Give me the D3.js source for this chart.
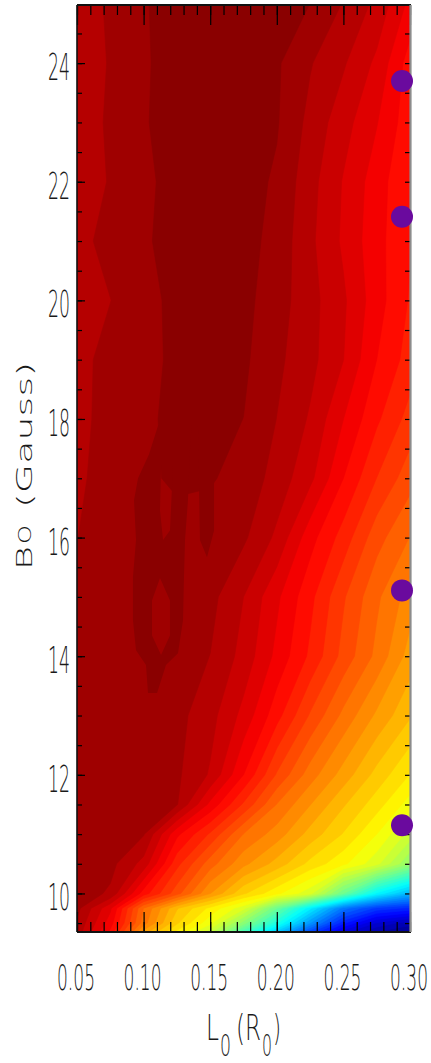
<!DOCTYPE html>
<html><head><meta charset="utf-8">
<script src="https://cdn.jsdelivr.net/npm/d3@7"></script>
<style>html,body{margin:0;padding:0;background:#fff}svg{display:block}</style>
</head><body>
<script>
// ---------------- data ----------------
// grid columns: L0 (R0)
const Lcols = [0.05, 0.075, 0.10, 0.125, 0.15, 0.175, 0.20, 0.225, 0.25, 0.275, 0.30];
// grid rows: B0 (Gauss)
const Brows = [9.35, 9.5, 9.75, 10, 10.5, 11, 11.5, 12, 13, 14, 15, 16, 17, 18, 19, 20, 21, 22, 23, 24, 25];
// normalised field value (0 = dark blue ... 1 = dark red), one array per row
const B0935 = [0.95, 0.87, 0.72, 0.64, 0.57, 0.44, 0.32, 0.19, 0.09, 0.04, 0.02];
const B0950 = [0.955, 0.885, 0.76, 0.67, 0.61, 0.51, 0.40, 0.27, 0.15, 0.08, 0.05];
const B0975 = [0.965, 0.90, 0.77, 0.69, 0.64, 0.59, 0.48, 0.36, 0.24, 0.18, 0.16];
const B1000 = [0.97, 0.955, 0.865, 0.80, 0.73, 0.67, 0.63, 0.59, 0.48, 0.37, 0.30];
const B1050 = [0.972, 0.965, 0.93, 0.84, 0.78, 0.735, 0.70, 0.66, 0.63, 0.59, 0.52];
const B1100 = [0.972, 0.97, 0.96, 0.88, 0.83, 0.77, 0.74, 0.70, 0.665, 0.625, 0.575];
const B1150 = [0.972, 0.972, 0.968, 0.96, 0.89, 0.83, 0.77, 0.73, 0.69, 0.655, 0.615];
const B1200 = [0.970, 0.972, 0.97, 0.962, 0.935, 0.875, 0.81, 0.76, 0.72, 0.68, 0.645];
const B1300 = [0.967, 0.972, 0.972, 0.965, 0.945, 0.91, 0.862, 0.81, 0.765, 0.725, 0.69];
const B1400 = [0.965, 0.972, 0.975, 0.97, 0.958, 0.93, 0.89, 0.85, 0.805, 0.765, 0.72];
const B1500 = [0.962, 0.97, 0.975, 0.972, 0.965, 0.9375, 0.90, 0.86, 0.815, 0.775, 0.74];
const B1600 = [0.958, 0.968, 0.975, 0.975, 0.97, 0.962, 0.933, 0.883, 0.845, 0.80, 0.77];
const B1700 = [0.955, 0.966, 0.977, 0.981, 0.981, 0.972, 0.95, 0.922, 0.875, 0.833, 0.80];
const B1800 = [0.953, 0.965, 0.977, 0.982, 0.986, 0.979, 0.958, 0.935, 0.896, 0.858, 0.825];
const B1900 = [0.952, 0.965, 0.975, 0.982, 0.987, 0.983, 0.963, 0.944, 0.917, 0.875, 0.845];
const B2000 = [0.945, 0.958, 0.972, 0.985, 0.988, 0.985, 0.968, 0.945, 0.92, 0.884, 0.852];
const B2100 = [0.952, 0.965, 0.976, 0.988, 0.99, 0.987, 0.972, 0.942, 0.913, 0.882, 0.856];
const B2200 = [0.945, 0.96, 0.975, 0.986, 0.99, 0.988, 0.976, 0.945, 0.915, 0.885, 0.855];
const B2300 = [0.945, 0.962, 0.977, 0.99, 0.993, 0.99, 0.981, 0.952, 0.925, 0.897, 0.862];
const B2400 = [0.945, 0.96, 0.976, 0.99, 0.993, 0.99, 0.982, 0.96, 0.94, 0.912, 0.865];
const B2500 = [0.945, 0.962, 0.977, 0.99, 0.995, 0.995, 0.99, 0.979, 0.957, 0.932, 0.89];

// dark (top-level) islands: [L0, B0]
const islandOuter = [[0.111,17.9],[0.136,17.9],[0.1348,17.47],[0.1333,16.63],[0.1311,15.96],[0.1303,15.33],[0.1296,14.61],
  [0.1258,14.05],[0.1168,13.85],[0.1101,13.38],[0.1033,13.38],[0.1018,13.85],[0.0943,14.10],[0.0920,14.61],
  [0.0920,15.33],[0.0943,15.96],[0.0928,16.63],[0.0958,17.0],[0.104,17.4]];
const islandHoleA = [[0.1131,17.22],[0.1221,17.22],[0.1198,16.12],[0.1146,15.96],[0.1123,16.46]];
const islandHoleB = [[0.1123,15.32],[0.1198,14.94],[0.1198,14.35],[0.1131,14.02],[0.1063,14.35],[0.1063,14.94]];
const islandRight = [[0.1408,17.9],[0.1529,17.9],[0.1529,16.12],[0.1476,15.67],[0.1423,15.96]];

// marked points
const dotL = [0.294, 0.294, 0.294, 0.294];
const dotB = [23.70, 21.41, 15.11, 11.15];

// axes
const xTicks = [0.05, 0.10, 0.15, 0.20, 0.25, 0.30];
const xTickLabels = ["0.05", "0.10", "0.15", "0.20", "0.25", "0.30"];
const yTicks = [10, 12, 14, 16, 18, 20, 22, 24];
const yTickLabels = ["10", "12", "14", "16", "18", "20", "22", "24"];
const nLevels = 48;

// ---------------- drawing ----------------
const W = 431, H = 1063;
const pL = 77, pR = 410, pT = 5, pB = 932;
const svg = d3.select("body").append("svg").attr("width", W).attr("height", H);
const x = d3.scaleLinear().domain([0.05, 0.30]).range([pL, pR]);
const y = d3.scaleLinear().domain([9.35, 24.98]).range([pB, pT]);

const rows = [B0935,B0950,B0975,B1000,B1050,B1100,B1150,B1200,B1300,B1400,B1500,B1600,B1700,B1800,B1900,B2000,B2100,B2200,B2300,B2400,B2500];
const nx = Lcols.length, ny = Brows.length;
const values = [];
rows.forEach(r => r.forEach(v => values.push(v)));

function jet(v) {
  const c = t => Math.max(0, Math.min(1, t));
  return d3.rgb(Math.round(255 * c(1.5 - Math.abs(4 * v - 3))),
                Math.round(255 * c(1.5 - Math.abs(4 * v - 2))),
                Math.round(255 * c(1.5 - Math.abs(4 * v - 1)))).formatHex();
}
const thresholds = d3.range(0, nLevels).map(k => k / nLevels);
const contours = d3.contours().size([nx, ny]).thresholds(thresholds).smooth(true)(values);

const gx = d3.scaleLinear().domain(Lcols.map((_, i) => i + 0.5)).range(Lcols);
const gy = d3.scaleLinear().domain(Brows.map((_, j) => j + 0.5)).range(Brows);
const proj = d3.geoTransform({ point(px, py) { this.stream.point(x(gx(px)), y(gy(py))); } });
const path = d3.geoPath(proj);

svg.append("clipPath").attr("id", "clip").append("rect")
  .attr("x", pL).attr("y", pT).attr("width", pR - pL).attr("height", pB - pT);

const plot = svg.append("g").attr("clip-path", "url(#clip)");
plot.selectAll("path.band").data(contours).join("path").attr("class", "band")
  .attr("d", path)
  .attr("fill", (d, i) => jet((i + 0.5) / nLevels))
  .attr("stroke", (d, i) => jet((i + 0.5) / nLevels))
  .attr("stroke-width", 0.6);

const line = d3.line().x(d => x(d[0])).y(d => y(d[1])).curve(d3.curveLinearClosed);
const darkest = jet((nLevels - 0.5) / nLevels);
plot.append("path").attr("d", line(islandOuter) + line(islandHoleA) + line(islandHoleB))
  .attr("fill", darkest).attr("fill-rule", "evenodd");
plot.append("path").attr("d", line(islandRight)).attr("fill", darkest);

// ---------------- axes / ticks ----------------
const minorX = d3.range(5, 31).map(k => k / 100);
const minorY = d3.range(19, 50).map(k => k / 2);
function tickStyle(g) { g.select(".domain").remove(); g.selectAll("line").attr("stroke", "#000").attr("stroke-width", 1.2); g.selectAll("text").remove(); }
svg.append("g").attr("transform", `translate(0,${pB})`).call(d3.axisBottom(x).tickValues(minorX).tickSize(-10).tickSizeOuter(0)).call(tickStyle);
svg.append("g").attr("transform", `translate(0,${pB})`).call(d3.axisBottom(x).tickValues(xTicks).tickSize(-20).tickSizeOuter(0)).call(tickStyle);
svg.append("g").attr("transform", `translate(0,${pT})`).call(d3.axisTop(x).tickValues(minorX).tickSize(-10).tickSizeOuter(0)).call(tickStyle);
svg.append("g").attr("transform", `translate(0,${pT})`).call(d3.axisTop(x).tickValues(xTicks).tickSize(-20).tickSizeOuter(0)).call(tickStyle);
svg.append("g").attr("transform", `translate(${pL},0)`).call(d3.axisLeft(y).tickValues(minorY).tickSize(-5).tickSizeOuter(0)).call(tickStyle);
svg.append("g").attr("transform", `translate(${pL},0)`).call(d3.axisLeft(y).tickValues(yTicks).tickSize(-8).tickSizeOuter(0)).call(tickStyle);
svg.append("g").attr("transform", `translate(${pR},0)`).call(d3.axisRight(y).tickValues(minorY).tickSize(-5).tickSizeOuter(0)).call(tickStyle);

// frame
svg.append("line").attr("x1", pL).attr("x2", pR + 1).attr("y1", pT).attr("y2", pT).attr("stroke", "#111").attr("stroke-width", 2);
svg.append("line").attr("x1", pL).attr("x2", pR + 1).attr("y1", pB).attr("y2", pB).attr("stroke", "#111").attr("stroke-width", 2);
svg.append("line").attr("x1", pL).attr("x2", pL).attr("y1", pT).attr("y2", pB).attr("stroke", "#111").attr("stroke-width", 1.6);
svg.append("line").attr("x1", pR + 0.5).attr("x2", pR + 0.5).attr("y1", pT).attr("y2", pB).attr("stroke", "#8c8c8c").attr("stroke-width", 2.2);

// dots
svg.selectAll("circle.pt").data(dotL).join("circle").attr("class", "pt")
  .attr("cx", (d, i) => x(d)).attr("cy", (d, i) => y(dotB[i])).attr("r", 11)
  .attr("fill", "#6a0a9e");

// ---------------- texts (narrow/wide glyphs via horizontal scaling) ----------------
const FONT = "'DejaVu Sans', 'Liberation Sans', Arial, sans-serif";
// place string s with its left edge at px, baseline at py, squeezed/stretched to width w
function fitText(parent, s, px, py, fs, w) {
  const g = parent.append("g");
  const t = g.append("text").attr("x", 0).attr("y", 0).attr("font-family", FONT).attr("font-weight", 200)
    .attr("font-size", fs).attr("fill", "#1a1a1a").text(s);
  const nat = t.node().getComputedTextLength() || w;
  g.attr("transform", `translate(${px},${py}) scale(${w / nat},1)`);
  return g;
}
const ylabG = svg.append("g");
yTicks.forEach((v, i) => fitText(ylabG, yTickLabels[i], 70 - 22, y(v) + 17, 37, 22));
const xlabG = svg.append("g");
xTicks.forEach((v, i) => fitText(xlabG, xTickLabels[i], x(v) - 20, 990, 36, 38));

const xt = svg.append("g");
fitText(xt, "L", 206, 1040, 36, 13);
fitText(xt, "0", 220, 1056, 30, 11);
fitText(xt, "(R", 236, 1040, 36, 25);
fitText(xt, "0", 262, 1056, 30, 10);
fitText(xt, ")", 273, 1040, 36, 8);

const yt = svg.append("g").attr("transform", "translate(32,0) rotate(-90)");
fitText(yt, "B", -570, 0, 21, 24);
fitText(yt, "O", -544, -1, 18, 19);
fitText(yt, "(Gauss)", -508, 0, 21, 146);
</script>
</body></html>
